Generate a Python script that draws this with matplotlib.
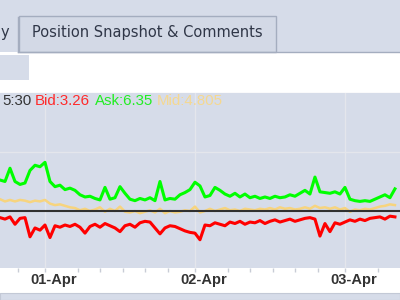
import matplotlib
matplotlib.use("Agg")
import matplotlib.pyplot as plt
from matplotlib.patches import Rectangle
import numpy as np

# ---- data ----
ask = [8.2, 8.0, 9.8, 8.0, 7.6, 7.8, 9.5, 10.2, 10.0, 10.6,
       8.0, 7.3, 7.5, 6.9, 7.1, 6.8, 6.2, 5.9, 6.0, 5.7,
       5.5, 7.2, 5.6, 5.8, 7.3, 6.4, 5.6, 5.4, 5.7, 5.5,
       5.8, 5.4, 8.0, 5.5, 5.7, 5.6, 6.2, 6.5, 6.9, 7.9,
       7.4, 5.9, 6.1, 7.2, 6.8, 6.3, 6.0, 6.4, 5.9, 6.3,
       5.8, 6.0, 5.7, 5.9, 5.7, 6.0, 5.8, 5.9, 6.2, 6.0,
       6.4, 6.8, 6.3, 8.6, 6.6, 6.5, 6.4, 6.6, 6.3, 7.2,
       5.6, 5.4, 5.3, 5.4, 5.3, 5.6, 5.9, 6.2, 5.8, 7.0]
mid = [5.6, 5.3, 5.5, 5.3, 5.5, 5.4, 5.2, 5.4, 5.3, 5.5,
       5.0, 4.8, 4.9, 4.7, 4.5, 4.4, 4.1, 4.3, 4.0, 4.2,
       4.5, 3.9, 4.3, 4.0, 4.6, 3.9, 3.8, 4.0, 3.7, 3.9,
       4.1, 3.8, 4.3, 3.7, 4.0, 3.8, 3.9, 4.1, 4.0, 4.6,
       3.8, 4.0, 4.3, 4.0, 4.2, 4.4, 4.1, 4.2, 4.0, 4.3,
       4.2, 4.1, 4.3, 4.2, 4.4, 4.2, 4.5, 4.3, 4.4, 4.2,
       4.3, 4.5, 4.3, 4.7, 4.4, 4.5, 4.3, 4.5, 4.2, 4.4,
       3.9, 4.2, 4.1, 4.3, 4.2, 4.4, 4.6, 4.7, 4.9, 4.8]
bid = [3.1, 2.9, 3.2, 2.2, 3.0, 3.1, 0.5, 1.7, 1.4, 2.1,
       0.4, 2.0, 1.8, 2.1, 1.9, 2.2, 1.8, 1.0, 1.9, 2.2,
       1.8, 2.3, 2.0, 1.7, 1.2, 2.0, 2.2, 1.8, 2.4, 2.6,
       2.5, 1.7, 0.9, 1.7, 2.0, 1.9, 1.6, 1.3, 1.1, 1.0,
       0.1, 2.1, 2.0, 2.4, 2.2, 2.0, 2.5, 2.3, 2.6, 2.2,
       2.5, 2.4, 2.7, 2.3, 2.6, 2.8, 2.5, 2.7, 2.9, 2.6,
       2.8, 3.0, 3.1, 2.9, 0.6, 2.3, 1.2, 2.4, 2.2, 2.5,
       2.8, 2.6, 2.9, 2.7, 3.0, 3.1, 3.2, 2.9, 3.3, 3.2]
day_labels = ["01-Apr", "02-Apr", "03-Apr"]
last_time = "5:30"
last_bid, last_ask, last_mid = "3.26", "6.35", "4.805"
ref_level = 4.0

t = np.linspace(-0.3, 2.333, len(ask))  # days from 01-Apr 00:00

# ---- figure / UI chrome ----
BG = "#d6dce9"
fig = plt.figure(figsize=(4, 3), dpi=100)
fig.patch.set_facecolor(BG)
ui = fig.add_axes([0, 0, 1, 1])
ui.set_xlim(0, 400)
ui.set_ylim(300, 0)
ui.axis("off")
ui.add_patch(Rectangle((0, 52), 400, 241, facecolor="white", edgecolor="none"))
ui.plot([18, 400], [51.5, 51.5], color="#a4adbf", lw=1)
ui.add_patch(Rectangle((19, 16), 257, 36, facecolor="#d3d9e6", edgecolor="#a4adbf", lw=1))
ui.plot([18, 18], [17, 52], color="#a4adbf", lw=1)
ui.text(147, 33, "Position Snapshot & Comments", ha="center", va="center",
        fontsize=10.5, color="#2f3647", family="DejaVu Sans")
ui.text(5, 33, "y", ha="center", va="center", fontsize=10.5, color="#2f3647",
        family="DejaVu Sans")
ui.add_patch(Rectangle((0, 55), 29, 25, facecolor=BG, edgecolor="none"))
ui.plot([0, 400], [92.5, 92.5], color="#e6e8ee", lw=1)
ui.add_patch(Rectangle((0, 293), 400, 7, facecolor=BG, edgecolor="#c3c9d6", lw=0.8))

# ---- chart ----
ax = fig.add_axes([0, 32 / 300, 1, 175 / 300])
ax.set_facecolor(BG)
for s in ax.spines.values():
    s.set_visible(False)

for d in range(3):
    ax.axvline(d, color="#e4e6ec", lw=1, zorder=1)
ax.axhline(12, color="#e4e6ec", lw=1, zorder=1)

ax.plot(t, mid, color="#f7d47e", lw=1.8, zorder=3)
ax.plot(t, ask, color="#00ff00", lw=2.2, zorder=4)
ax.plot(t, bid, color="#ff0000", lw=2.2, zorder=4)
ax.axhline(ref_level, color="#303030", lw=1.5, zorder=5)

ax.set_yticks([])
major = [d + 0.06 for d in range(3)]
ax.set_xticks(major)
ax.set_xticklabels(day_labels, fontsize=10.5, fontweight="bold", color="#333333",
                   family="Liberation Sans")
ax.tick_params(axis="x", which="major", length=0, pad=3.5)
minor = []
for d in range(-1, 3):
    for f in [0, 0.22, 0.37, 0.52, 0.67, 0.82]:
        minor.append(d + f)
ax.set_xticks(minor, minor=True)
ax.tick_params(axis="x", which="minor", length=3, color="#c8ccd6", width=1)
ax.set_xlim(-0.3, 2.3667)
ax.set_ylim(-3.73, 20)

# header values (figure-level text, drawn above the axes)
hy = 1 - 101 / 300
fs = 10.8
fig.text(2 / 400, hy, last_time, ha="left", va="center", fontsize=fs,
         color="#333333", family="Liberation Sans")
fig.text(35 / 400, hy, "Bid:" + last_bid, ha="left", va="center", fontsize=fs,
         color="#ff2a2a", family="Liberation Sans")
fig.text(95 / 400, hy, "Ask:" + last_ask, ha="left", va="center", fontsize=fs,
         color="#22ee22", family="Liberation Sans")
fig.text(157 / 400, hy, "Mid:" + last_mid, ha="left", va="center", fontsize=fs,
         color="#f5d890", family="Liberation Sans")

fig.savefig("out.png", dpi=100, facecolor=fig.get_facecolor())
